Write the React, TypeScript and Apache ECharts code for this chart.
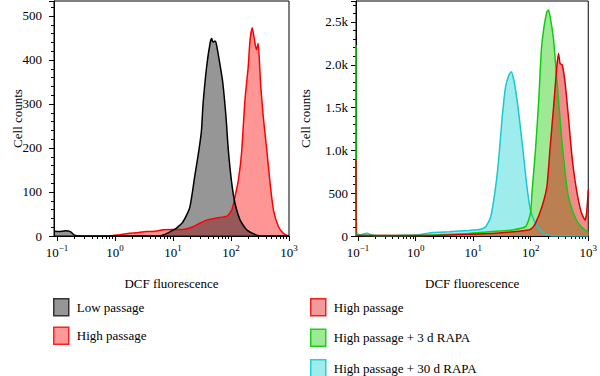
import React, { useEffect, useRef } from "react";
import * as echarts from "echarts";

// ---------- data (x = DCF fluorescence, y = cell counts) ----------
const lowPassageLeft: [number, number][] = [
  [0.089, 11], [0.11, 10], [0.14, 12], [0.17, 10], [0.2, 2], [0.25, 0], [5.5, 0], [7, 3], [9, 10],
  [11.5, 18], [15, 33], [19.5, 65], [24, 140], [28, 195], [31, 240], [33, 300], [38, 384],
  [43.6, 438], [46.5, 449], [49, 440], [53, 443], [56, 436], [64, 393], [72, 350], [82, 271],
  [90, 195], [103, 120], [117, 75], [144, 36], [187, 14], [276, 2], [340, 0], [1000, 0],
];
const highPassageLeft: [number, number][] = [
  [0.8, 0], [1.2, 3], [1.8, 6], [2.5, 8], [3.5, 10], [5, 11], [6.7, 14], [10, 15], [14.9, 15],
  [22, 21], [30, 30], [38, 36], [56, 41], [85, 45], [103, 59], [117, 89], [134, 127], [152, 188],
  [174, 309], [198, 384], [213, 445], [233, 473], [259, 438], [276, 423], [294, 438], [323, 348],
  [360, 271], [414, 195], [472, 120], [540, 59], [660, 21], [800, 6], [960, 0],
];
const highPassageRight: [number, number][] = [
  [0.092, 890], [0.095, 5], [1, 5], [2.6, 10], [8.5, 20], [28, 35], [92, 70], [105, 90],
  [121, 148], [157, 342], [191, 576], [218, 1043], [250, 1510], [284, 1977], [304, 2133],
  [324, 2016], [354, 1997], [397, 1783], [452, 1393], [515, 966], [587, 654], [674, 420],
  [767, 265], [877, 187], [935, 265], [1000, 537],
];
const rapa3dRight: [number, number][] = [
  [0.092, 2230], [0.095, 10], [0.2, 5], [1, 5], [2.6, 15], [8.5, 30], [18.9, 50], [47.6, 70],
  [81, 109], [99, 265], [105, 499], [121, 1004], [138, 1588], [153, 2172], [167, 2406],
  [191, 2620], [204, 2640], [223, 2523], [250, 2289], [273, 1977], [304, 1588], [347, 1121],
  [397, 732], [452, 459], [552, 265], [674, 148], [877, 70], [1000, 50],
];
const rapa30dRight: [number, number][] = [
  [0.092, 20], [0.11, 15], [0.141, 31], [0.18, 10], [0.24, 2], [0.5, 5], [1.17, 15], [1.96, 40],
  [3.86, 50], [8.5, 65], [12.7, 75], [16.5, 109], [20.2, 225], [24.6, 576], [28, 926], [32, 1393],
  [36.6, 1744], [41.8, 1880], [45.7, 1919], [50.9, 1822], [58, 1588], [66, 1277], [75.5, 926],
  [86, 576], [99, 304], [121, 148], [157, 50], [230, 0], [1000, 0],
];

const majorTicks = [0.1, 1, 10, 100, 1000];
const minorTicks = [
  0.2, 0.3, 0.4, 0.5, 0.6, 0.7, 0.8, 0.9, 2, 3, 4, 5, 6, 7, 8, 9,
  20, 30, 40, 50, 60, 70, 80, 90, 200, 300, 400, 500, 600, 700, 800, 900,
];
const leftLegend = ["Low passage", "High passage"];
const rightLegend = ["High passage", "High passage + 3 d RAPA", "High passage + 30 d RAPA"];

const FONT = "'Liberation Serif', 'DejaVu Serif', serif";

export default function App() {
  const ref = useRef<HTMLDivElement>(null);
  useEffect(() => {
    if (!ref.current) return;
    const chart = echarts.init(ref.current, null, { renderer: "svg" });

    const xMain = (gridIndex: number, min: number) => ({
      type: "log",
      gridIndex,
      min,
      max: 1000,
      position: "bottom",
      name: "DCF fluorescence",
      nameLocation: "middle",
      nameGap: 41,
      nameMoveOverlap: false,
      nameTextStyle: { fontFamily: FONT, fontSize: 13, color: "#000" },
      axisLine: { show: true, onZero: false, lineStyle: { color: "#000", width: 1 } },
      axisTick: { show: true, inside: false, length: 5, customValues: majorTicks, lineStyle: { color: "#000" } },
      axisLabel: {
        customValues: majorTicks,
        margin: 7,
        formatter: (v: number) => {
          const e = Math.round(Math.log10(v));
          return `{b|10}{s|${e < 0 ? "\u2212" + Math.abs(e) : e}}`;
        },
        rich: {
          b: { fontFamily: FONT, fontSize: 13, color: "#000", verticalAlign: "bottom" },
          s: { fontFamily: FONT, fontSize: 9, color: "#000", verticalAlign: "bottom", padding: [0, 0, 7, 0] },
        },
      },
      splitLine: { show: false },
    });
    const xMinor = (gridIndex: number, min: number) => ({
      type: "log",
      gridIndex,
      min,
      max: 1000,
      position: "bottom",
      axisLine: { show: false },
      axisTick: { show: true, inside: false, length: 3, customValues: minorTicks, lineStyle: { color: "#000" } },
      axisLabel: { show: false },
      splitLine: { show: false },
    });
    const yAxis = (gridIndex: number, max: number, interval: number, nameGap: number, margin: number, fmt: (v: number) => string) => ({
      type: "value",
      gridIndex,
      min: 0,
      max,
      interval,
      name: "Cell counts",
      nameLocation: "middle",
      nameGap,
      nameMoveOverlap: false,
      nameTextStyle: { fontFamily: FONT, fontSize: 13, color: "#000" },
      axisLine: { show: true, lineStyle: { color: "#000", width: 1 } },
      axisTick: { show: true, inside: false, length: 5, lineStyle: { color: "#000" } },
      minorTick: { show: true, splitNumber: 5, length: 3, lineStyle: { color: "#000" } },
      axisLabel: { showMaxLabel: false, margin, fontFamily: FONT, fontSize: 13, color: "#000", formatter: fmt },
      splitLine: { show: false },
      minorSplitLine: { show: false },
    });

    const area = (name: string, data: [number, number][], xi: number, yi: number, line: string, fill: string, fillOpacity: number) => ({
      type: "line",
      name,
      data,
      xAxisIndex: xi,
      yAxisIndex: yi,
      symbol: "none",
      showSymbol: false,
      smooth: 0.2,
      lineStyle: { color: line, width: 1.5 },
      itemStyle: { color: line },
      areaStyle: { color: fill, opacity: fillOpacity },
    });

    const legendItem = (name: string, fill: string, border: string) => ({
      name,
      icon: "rect",
      itemStyle: { color: fill, borderColor: border, borderWidth: 1.5 },
    });

    chart.setOption({
      animation: false,
      grid: [
        { left: 54, top: 1, width: 235, height: 235, show: true, borderColor: "#000", borderWidth: 1, backgroundColor: "transparent" },
        { left: 356, top: 1, width: 235, height: 235, show: true, borderColor: "#000", borderWidth: 1, backgroundColor: "transparent" },
      ],
      xAxis: [xMain(0, 0.089), xMinor(0, 0.089), xMain(1, 0.092), xMinor(1, 0.092)],
      yAxis: [
        yAxis(0, 534, 100, 30, 12, (v: number) => String(v)),
        yAxis(1, 2745, 500, 44, 8, (v: number) => (v === 0 ? "0" : v < 1000 ? String(v) : (v / 1000).toFixed(1) + "k")),
      ],
      legend: [
        {
          left: 53, top: 298, orient: "vertical", itemWidth: 15, itemHeight: 17, itemGap: 10, selectedMode: false,
          padding: 0, height: 140,
          textStyle: { fontFamily: FONT, fontSize: 13, color: "#000", padding: [0, 0, 0, 3] },
          data: [legendItem(leftLegend[0], "#969696", "#333333"), legendItem(leftLegend[1], "#ff9898", "#ff2020")],
        },
        {
          left: 310, top: 298, orient: "vertical", itemWidth: 15, itemHeight: 17, itemGap: 12, selectedMode: false,
          padding: 0, height: 140,
          textStyle: { fontFamily: FONT, fontSize: 13, color: "#000", padding: [0, 0, 0, 3] },
          data: [
            legendItem(rightLegend[0], "#f09a9a", "#ee2020"),
            legendItem(rightLegend[1], "#9eea94", "#22cc22"),
            legendItem(rightLegend[2], "#9eecec", "#22d0d8"),
          ],
        },
      ],
      series: [
        area(leftLegend[1], highPassageLeft, 0, 0, "#ff0000", "#ff0000", 0.41),
        area(leftLegend[0], lowPassageLeft, 0, 0, "#000000", "#000000", 0.41),
        area(rightLegend[2], rapa30dRight, 2, 1, "#18c8d2", "#9eecec", 1),
        area(rightLegend[1], rapa3dRight, 2, 1, "#10cc10", "#9eea94", 1),
        area(rightLegend[0], highPassageRight, 2, 1, "#dd0000", "#dd0000", 0.45),
      ],
    });
    return () => chart.dispose();
  }, []);

  return (
    <div
      ref={ref}
      style={{ position: "absolute", left: 0, top: 0, width: 600, height: 376, background: "#fff" }}
    />
  );
}
